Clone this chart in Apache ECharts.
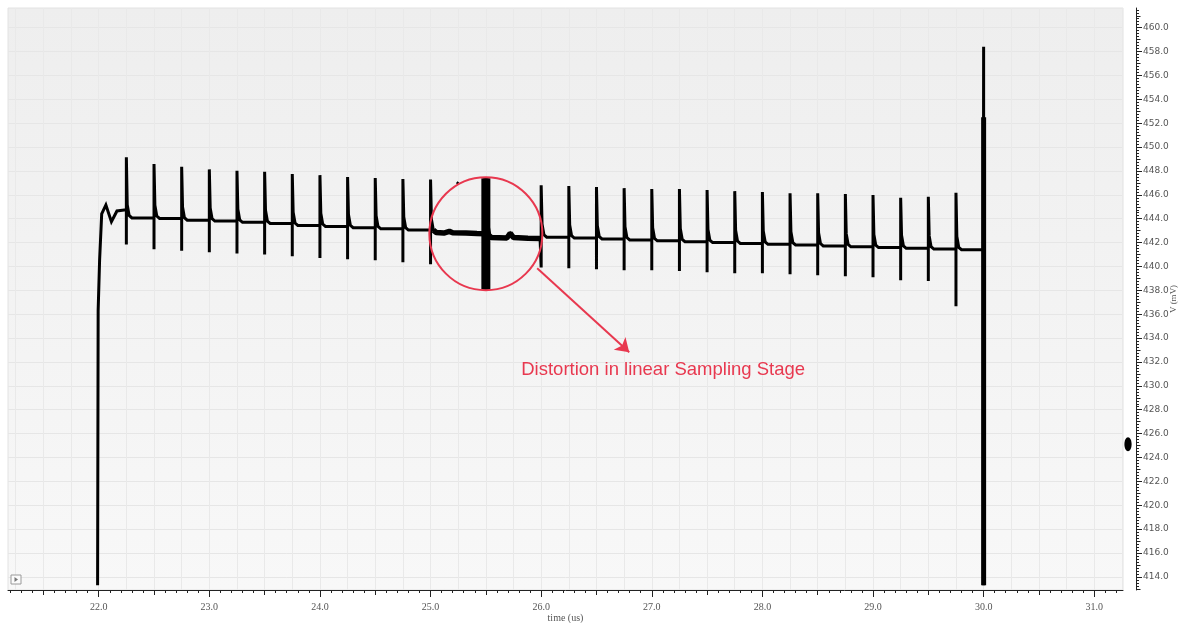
<!DOCTYPE html>
<html>
<head>
<meta charset="utf-8">
<script src="https://cdn.jsdelivr.net/npm/echarts@6/dist/echarts.min.js"></script>
<style>
  html, body { margin: 0; padding: 0; background: #ffffff; }
  #chart { width: 1184px; height: 623px; }
</style>
</head>
<body>
<div id="chart"></div>
<script>
// ---- Transient data: sample-and-hold node voltage V (mV) vs time (us) ----

// Power-up edge and first settling wiggle
const riseTrace = [[21.99, 413.3], [21.995, 436.3], [22.008, 440.5], [22.027, 444.4],
                   [22.065, 445.15], [22.115, 443.75], [22.165, 444.65], [22.23, 444.72]];

// Sampling clock kicks (us); 25.25 and 25.75 are swallowed by the disturbance
const spikeTimes = [22.25, 22.5, 22.75, 23.0, 23.25, 23.5, 23.75, 24.0, 24.25, 24.5, 24.75, 25.0,
                    25.5, 26.0,
                    26.25, 26.5, 26.75, 27.0, 27.25, 27.5, 27.75, 28.0, 28.25, 28.5, 28.75, 29.0, 29.25, 29.5, 29.75];
const spikeHighs = [449.14, 448.58, 448.35, 448.13, 448.01, 447.93, 447.74, 447.65, 447.49, 447.40, 447.32, 447.29,
                    447.38, 446.81,
                    446.73, 446.65, 446.56, 446.48, 446.48, 446.40, 446.31, 446.23, 446.14, 446.14, 446.06, 445.98, 445.75, 445.84, 446.17];
const spikeLows  = [441.84, 441.45, 441.31, 441.20, 441.09, 441.01, 440.86, 440.70, 440.61, 440.53, 440.36, 440.19,
                    438.07, 439.92,
                    439.86, 439.77, 439.69, 439.69, 439.61, 439.52, 439.44, 439.44, 439.35, 439.27, 439.19, 439.10, 438.85, 438.79, 436.67];
const settleLevels = [444.07, 444.02, 443.88, 443.80, 443.70, 443.60, 443.44, 443.35, 443.25, 443.15, 443.05, 442.85,
                      442.42, 442.45,
                      442.38, 442.30, 442.22, 442.15, 442.07, 442.00, 441.93, 441.86, 441.80, 441.72, 441.65, 441.58, 441.52, 441.46, 441.40];

// Recovery right after each kick: [dt (us), mV above the settled level]
const recoveryProfile = [[0.008, 1.1], [0.025, 0.2], [0.05, 0.0]];

// Ripple on the held value inside the disturbed window
const distortionRipple = [[25.06, 442.88], [25.12, 442.80], [25.17, 442.94], [25.20, 442.82], [25.32, 442.80],
                          [25.42, 442.76], [25.49, 442.75], [25.56, 442.45], [25.69, 442.38], [25.72, 442.78],
                          [25.75, 442.42], [25.88, 442.36], [25.99, 442.35]];

// Short stray glitch at the missing 25.25 kick
const strayGlitch = [[25.236, 447.05], [25.252, 446.95]];

// Reset pulse at the end of the window
const finalPulse = [[29.998, 441.40], [30.0, 458.40], [30.0, 413.30]];
const finalHeavyPart = [[30.0, 452.5], [30.0, 413.3]];

// Axis ranges and tick labels
const xRange = [21.18, 31.26];
const yRange = [412.9, 461.65];
const xLabelValues = [22, 23, 24, 25, 26, 27, 28, 29, 30, 31];
const yLabelValues = [414, 416, 418, 420, 422, 424, 426, 428, 430, 432, 434, 436, 438,
                      440, 442, 444, 446, 448, 450, 452, 454, 456, 458, 460];
const markerLevel = 425.1;

// ---- build the trace in time order ----
const trace = riseTrace.slice();
let level = riseTrace[riseTrace.length - 1][1];
spikeTimes.forEach((t, i) => {
  trace.push([t, level], [t, spikeLows[i]], [t, spikeHighs[i]]);
  recoveryProfile.forEach(([dt, dv]) => trace.push([+(t + dt).toFixed(4), settleLevels[i] + dv]));
  level = settleLevels[i];
  const next = i + 1 < spikeTimes.length ? spikeTimes[i + 1] : Infinity;
  distortionRipple.forEach(p => {
    if (p[0] > t && p[0] < next) { trace.push(p); level = p[1]; }
  });
});
finalPulse.forEach(p => trace.push(p));

const disturbedBand = trace.filter(p => p[0] >= 25.02 && p[0] <= 25.995);
const bigIdx = spikeTimes.indexOf(25.5);
const bigSpike = [[25.5, spikeLows[bigIdx]], [25.5, spikeHighs[bigIdx]]];

// tick positions between labels
function steps(a, b, s) {
  const out = [];
  for (let v = Math.ceil(a / s - 1e-9) * s; v <= b + 1e-9; v += s) out.push(+v.toFixed(4));
  return out;
}
const xQuarter = steps(xRange[0], xRange[1], 0.25);
const xHalf = steps(xRange[0], xRange[1], 0.5).filter(v => Math.abs(v - Math.round(v)) > 1e-6);
const xTenth = steps(xRange[0], xRange[1], 0.1);
const yOdd = steps(yRange[0], yRange[1], 1).filter(v => Math.round(v) % 2 !== 0);
const yQuarter = steps(yRange[0], yRange[1], 0.25);

const RED = '#e8384f';
const AXIS = '#222222';
const labelGray = '#555555';

const chart = echarts.init(document.getElementById('chart'), null, { renderer: 'canvas' });

function xAxisBase(extra) {
  return Object.assign({
    type: 'value', min: xRange[0], max: xRange[1], position: 'bottom', offset: 0,
    axisLine: { show: false }, axisLabel: { show: false }, axisTick: { show: false },
    splitLine: { show: false }
  }, extra);
}
function yAxisBase(extra) {
  return Object.assign({
    type: 'value', min: yRange[0], max: yRange[1], position: 'right', offset: 13,
    axisLine: { show: false }, axisLabel: { show: false }, axisTick: { show: false },
    splitLine: { show: false }
  }, extra);
}

const option = {
  animation: false,
  backgroundColor: '#ffffff',
  grid: {
    left: 8, top: 8, right: 61, bottom: 33, show: true,
    containLabel: false, outerBoundsMode: 'none',
    backgroundColor: new echarts.graphic.LinearGradient(0, 0, 0, 1, [
      { offset: 0, color: '#eeeeee' }, { offset: 1, color: '#f8f8f8' }
    ]),
    borderColor: '#e2e2e2', borderWidth: 1
  },
  xAxis: [
    xAxisBase({
      axisLine: { show: true, onZero: false, lineStyle: { color: AXIS, width: 1 } },
      axisTick: { show: true, customValues: xLabelValues, length: 7, lineStyle: { color: AXIS } },
      axisLabel: { show: true, customValues: xLabelValues, formatter: v => v.toFixed(1), margin: 12,
                   fontSize: 10, color: labelGray, fontFamily: 'Liberation Serif' },
      splitLine: { show: true, lineStyle: { color: '#e0e0e0', width: 1 } },
      name: 'time (us)', nameLocation: 'middle', nameGap: 23, nameMoveOverlap: false,
      nameTextStyle: { fontSize: 10, color: labelGray, fontFamily: 'Liberation Serif' }
    }),
    xAxisBase({
      axisTick: { show: false, customValues: xQuarter },
      splitLine: { show: true, lineStyle: { color: '#e9e9e9', width: 1 } }
    }),
    xAxisBase({
      axisTick: { show: true, customValues: xHalf, length: 5, lineStyle: { color: AXIS } }
    }),
    xAxisBase({
      axisTick: { show: true, customValues: xTenth, length: 3, lineStyle: { color: AXIS } }
    })
  ],
  yAxis: [
    yAxisBase({
      axisLine: { show: true, onZero: false, lineStyle: { color: AXIS, width: 1 } },
      axisTick: { show: true, customValues: yLabelValues, length: 6, lineStyle: { color: AXIS } },
      axisLabel: { show: true, customValues: yLabelValues, formatter: v => v.toFixed(1), margin: 7,
                   fontSize: 9, color: labelGray, fontFamily: 'DejaVu Sans' },
      splitLine: { show: true, lineStyle: { color: '#e6e6e6', width: 1 } },
      name: 'V (mV)', nameLocation: 'middle', nameGap: 33, nameRotate: 90, nameMoveOverlap: false,
      nameTextStyle: { fontSize: 9, color: labelGray, fontFamily: 'Liberation Serif' }
    }),
    yAxisBase({
      axisTick: { show: true, customValues: yOdd, length: 4.5, lineStyle: { color: AXIS } }
    }),
    yAxisBase({
      axisTick: { show: true, customValues: yQuarter, length: 3, lineStyle: { color: AXIS } }
    })
  ],
  series: [
    {
      name: 'V', type: 'line', data: trace, xAxisIndex: 0, yAxisIndex: 0,
      symbol: 'none', sampling: null, z: 3,
      lineStyle: { color: '#000000', width: 3, join: 'miter' },
      markPoint: {
        silent: true, symbol: 'circle', symbolSize: 113,
        itemStyle: { color: 'rgba(0,0,0,0)', borderColor: RED, borderWidth: 2 },
        label: { show: false },
        data: [{ coord: [25.5, 442.75] }]
      },
      markLine: {
        silent: true, symbol: ['none', 'arrow'], symbolSize: 13,
        lineStyle: { color: RED, width: 2, type: 'solid' },
        itemStyle: { color: RED },
        label: { show: false },
        data: [[{ coord: [25.964, 439.86] }, { coord: [26.796, 432.82] }]]
      }
    },
    {
      name: 'disturbed', type: 'line', data: disturbedBand, symbol: 'none', z: 4,
      lineStyle: { color: '#000000', width: 5.5 }
    },
    {
      name: 'kick 25.5', type: 'line', data: bigSpike, symbol: 'none', z: 4,
      lineStyle: { color: '#000000', width: 9 }
    },
    {
      name: 'glitch', type: 'line', data: strayGlitch, symbol: 'none', z: 4,
      lineStyle: { color: '#000000', width: 2.5 }
    },
    {
      name: 'reset', type: 'line', data: finalHeavyPart, symbol: 'none', z: 4,
      lineStyle: { color: '#000000', width: 5 }
    }
  ]
};

chart.setOption(option);

// annotation text, axis cursor marker and the panel toggle icon
const textPos = chart.convertToPixel({ xAxisIndex: 0, yAxisIndex: 0 }, [25.82, 431.31]);
const markerY = chart.convertToPixel({ yAxisIndex: 0 }, markerLevel);
const plotRight = chart.convertToPixel({ xAxisIndex: 0 }, xRange[1]);
const plotBottom = chart.convertToPixel({ yAxisIndex: 0 }, yRange[0]);
const plotLeft = chart.convertToPixel({ xAxisIndex: 0 }, xRange[0]);

chart.setOption({
  graphic: [
    {
      type: 'text', x: textPos[0], y: textPos[1], silent: true, z: 10,
      style: {
        text: 'Distortion in linear Sampling Stage', fill: RED,
        font: '18.5px "Liberation Sans", Arial, sans-serif', verticalAlign: 'middle', align: 'left'
      }
    },
    {
      type: 'ellipse', silent: true, z: 10,
      shape: { cx: plotRight + 5, cy: markerY, rx: 3.6, ry: 7 },
      style: { fill: '#000000' }
    },
    {
      type: 'group', x: plotLeft + 3, y: plotBottom - 15, silent: true, z: 10,
      children: [
        { type: 'rect', shape: { x: 0, y: 0, width: 10, height: 9 },
          style: { fill: '#fbfbfb', stroke: '#9a9a9a', lineWidth: 1 } },
        { type: 'polygon', shape: { points: [[3.5, 2], [3.5, 7], [7, 4.5]] },
          style: { fill: '#777777' } }
      ]
    }
  ]
});
</script>
</body>
</html>
